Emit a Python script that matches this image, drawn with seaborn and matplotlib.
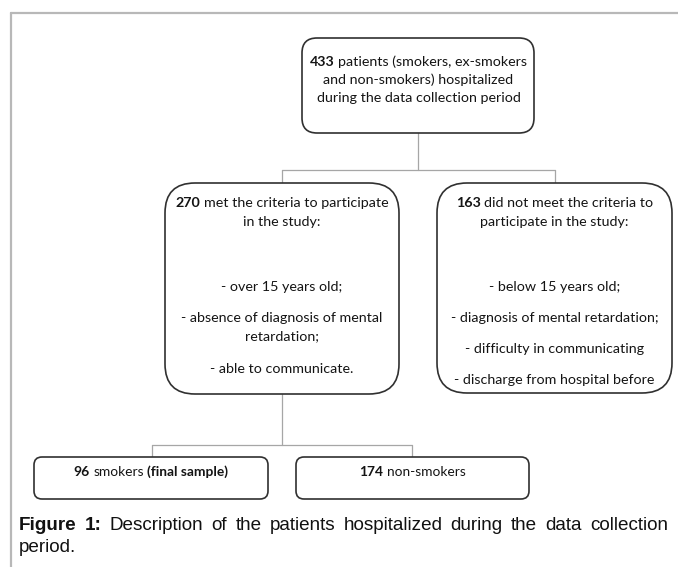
import matplotlib
matplotlib.use("Agg")
import matplotlib.pyplot as plt
from matplotlib.patches import FancyBboxPatch
import seaborn as sns

# counts shown in the flow chart
n_total = 433
n_met = 270
n_not_met = 163
n_smokers = 96
n_non_smokers = 174

top_lines = [[(str(n_total), True), (" patients (smokers, ex-smokers", False)],
             [("and non-smokers) hospitalized", False)],
             [("during the data collection period", False)]]
met_lines = [[(str(n_met), True), (" met the criteria to participate", False)],
             [("in the study:", False)],
             [("- over 15 years old;", False)],
             [("- absence of diagnosis of mental", False)],
             [("retardation;", False)],
             [("- able to communicate.", False)]]
not_met_lines = [[(str(n_not_met), True), (" did not meet the criteria to", False)],
                 [("participate in the study:", False)],
                 [("- below 15 years old;", False)],
                 [("- diagnosis of mental retardation;", False)],
                 [("- difficulty in communicating", False)],
                 [("- discharge from hospital before", False)]]
smokers_line = [(str(n_smokers), True), (" smokers ", False), ("(final sample)", True)]
non_smokers_line = [(str(n_non_smokers), True), (" non-smokers", False)]
caption_bold = ["Figure", "1:"]
caption_words = "Description of the patients hospitalized during the data collection".split()
caption_tail = "period."

sns.set_theme(style="white")
plt.rcParams["font.family"] = ["Lato", "DejaVu Sans"]

W, H = 678, 567
fig = plt.figure(figsize=(W / 100, H / 100), dpi=100)
ax = fig.add_axes([0, 0, 1, 1])
ax.set_xlim(0, W)
ax.set_ylim(H, 0)
ax.axis("off")
fig.canvas.draw()
rend = fig.canvas.get_renderer()


def width_of(s, **kw):
    t = ax.text(0, 0, s, **kw)
    w = t.get_window_extent(rend).width
    t.remove()
    return w


def space_width(**kw):
    return width_of("a a", **kw) - width_of("aa", **kw)


def rich_line(cx, y, parts, size, family="Lato"):
    sw = space_width(fontsize=size, family=family)
    items = []
    for s, bold in parts:
        lead = len(s) - len(s.lstrip(" "))
        trail = len(s) - len(s.rstrip(" "))
        core = s.strip(" ")
        kw = dict(fontsize=size, family=family, fontweight="bold" if bold else "normal")
        items.append((lead * sw, core, kw, width_of(core, **kw), trail * sw))
    total = sum(a + w + b for a, _, _, w, b in items)
    x = cx - total / 2
    for a, core, kw, w, b in items:
        x += a
        ax.text(x, y, core, ha="left", va="center", color="#141414", **kw)
        x += w + b


def box(x0, y0, x1, y1, r):
    ax.add_patch(FancyBboxPatch((x0, y0), x1 - x0, y1 - y0,
                                boxstyle=f"round,pad=0,rounding_size={r}",
                                fc="white", ec="#303030", lw=1.2, zorder=2))


line_kw = dict(color="#a6a6a6", lw=0.9, zorder=1)

# page frame
ax.plot([11, W], [13, 13], color="#b8b8b8", lw=1.6)
ax.plot([11, 11], [13, H], color="#b8b8b8", lw=1.6)

# connectors
ax.plot([418, 418], [133, 170], **line_kw)
ax.plot([282, 555], [170, 170], **line_kw)
ax.plot([282, 282], [170, 183], **line_kw)
ax.plot([555, 555], [170, 183], **line_kw)
ax.plot([282, 282], [394, 445], **line_kw)
ax.plot([152, 412], [445, 445], **line_kw)
ax.plot([152, 152], [445, 457], **line_kw)
ax.plot([412, 412], [445, 457], **line_kw)

# boxes
box(302, 38, 534, 133, 15)
box(165, 183, 399, 394, 30)
box(437, 183, 672, 393, 30)
box(34, 457, 268, 499, 8)
box(296, 457, 529, 499, 8)

fs = 10.3
for (parts, y) in zip(top_lines, [62, 80, 98]):
    rich_line(418.5, y, parts, fs)
for (parts, y) in zip(met_lines, [203, 222, 287, 318, 336, 369]):
    rich_line(282, y, parts, fs)
for (parts, y) in zip(not_met_lines, [203, 222, 287, 318, 349, 380]):
    rich_line(554.5, y, parts, fs)
rich_line(151, 472, smokers_line, 9.9)
rich_line(412.5, 472, non_smokers_line, 9.9)

# justified caption
cap_family = "Liberation Sans"
cap_fs = 13.6
words = [(w, "bold") for w in caption_bold] + [(w, "normal") for w in caption_words]
widths = [width_of(w, fontsize=cap_fs, family=cap_family, fontweight=fw) for w, fw in words]
left, right = 19, 668
gap = (right - left - sum(widths)) / (len(words) - 1)
x = left
for (w, fw), wd in zip(words, widths):
    ax.text(x, 525, w, fontsize=cap_fs, family=cap_family, fontweight=fw,
            ha="left", va="center", color="#111111")
    x += wd + gap
ax.text(left, 548, caption_tail, fontsize=cap_fs, family=cap_family,
        ha="left", va="center", color="#111111")

fig.savefig("out.png", dpi=100)
